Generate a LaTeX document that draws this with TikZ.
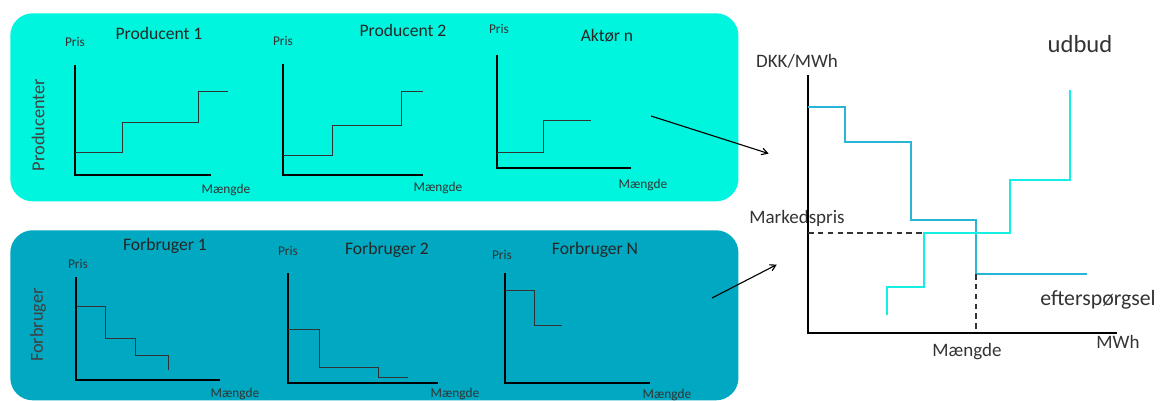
\documentclass[tikz,border=0pt]{standalone}
\usepackage{fontspec}
\setmainfont{Carlito}
\usepackage{tikz}
\usetikzlibrary{arrows,positioning}

\definecolor{prodfill}{RGB}{0,245,222}
\definecolor{consfill}{RGB}{0,168,194}
\definecolor{demandline}{RGB}{40,182,212}
\definecolor{supplyline}{RGB}{20,238,228}

\begin{document}
\begin{tikzpicture}
[
	x=0.025cm, y=-0.025cm,
	panel/.style = {rectangle, rounded corners = 16pt, inner sep=0pt, anchor=north west, minimum width=18.2cm},
	axis/.style = {-, line width=0.9pt},
	curve/.style = {-, line width=0.6pt, black!80},
	market/.style = {-, line width=1.1pt},
	small/.style = {font=\fontsize{9.5}{11}\selectfont, inner sep=0pt, text=black!80},
	heading/.style = {font=\fontsize{12.5}{14}\selectfont, inner sep=0pt, text=black!85},
	sidetext/.style = {font=\fontsize{13}{15}\selectfont, inner sep=0pt, rotate=90, text=black!75},
	mlabel/.style = {font=\fontsize{13.5}{15}\selectfont, inner sep=0pt, text=black!80},
	arrow/.style = {->, >=angle 60, thick, shorten >=1pt},
	guide/.style = {dash pattern=on 4pt off 3pt, thick, black!80}
]
\useasboundingbox (0,0) rectangle (1160,401);

% panels
\node[panel, fill=prodfill, minimum height=4.7cm] (producers) at (10,13) {};
\node[panel, fill=consfill, minimum height=4.25cm] (consumers) at (10,230) {};

\node[sidetext] (prodside) at (38,125) {Producenter};
\node[sidetext] (consside) at (38,325) {Forbruger};

% Producent 1
\node[heading] (prod1) at (159,33) {Producent 1};
\node[small] (prod1p) at (75,42) {Pris};
\node[small] (prod1q) at (226,190) {Mængde};
\draw[axis] (75,65) |- (211,175);
\draw[curve] (75,152) -| (122,122) -| (198,91) -- (228,91);

% Producent 2
\node[heading] (prod2) at (403,30) {Producent 2};
\node[small] (prod2p) at (283,41) {Pris};
\node[small] (prod2q) at (438,188) {Mængde};
\draw[axis] (283,64) |- (423,175);
\draw[curve] (283,155) -| (332,125) -| (401,91) -- (423,91);

% Aktoer n
\node[heading] (prodn) at (607,36) {Aktør n};
\node[small] (prodnp) at (499,29) {Pris};
\node[small] (prodnq) at (643,185) {Mængde};
\draw[axis] (497,55) |- (631,168);
\draw[curve] (497,152) -| (543,120) -- (591,120);

% Forbruger 1
\node[heading] (cons1) at (165,246) {Forbruger 1};
\node[small] (cons1p) at (78,264) {Pris};
\node[small] (cons1q) at (235,394) {Mængde};
\draw[axis] (76,277) |- (220,380);
\draw[curve] (76,306) -| (105,338) -| (135,355) -| (168,370);

% Forbruger 2
\node[heading] (cons2) at (387,250) {Forbruger 2};
\node[small] (cons2p) at (288,251) {Pris};
\node[small] (cons2q) at (455,394) {Mængde};
\draw[axis] (288,273) |- (438,383);
\draw[curve] (288,329) -| (319,367) -- (378,367) |- (408,377);

% Forbruger N
\node[heading] (consn) at (595,250) {Forbruger N};
\node[small] (consnp) at (502,255) {Pris};
\node[small] (consnq) at (667,395) {Mængde};
\draw[axis] (505,273) |- (650,383);
\draw[curve] (505,290) -| (534,325) -- (562,325);

% markedet
\node[mlabel] (unit) at (797,61) {DKK/MWh};
\node[mlabel, font=\fontsize{17.5}{20}\selectfont] (supplytext) at (1080,44) {udbud};
\node[mlabel] (price) at (797,218) {Markedspris};
\node[mlabel] (qty) at (967,352) {Mængde};
\node[mlabel] (mwh) at (1118,342) {MWh};
\node[mlabel, font=\fontsize{15.5}{18}\selectfont] (demandtext) at (1098,300) {efterspørgsel};

\draw[axis] (808,75) |- (1117,333);
\draw[market, demandline] (808,107) -| (845,142) -| (911,220) -| (976,274) -- (1087,274);
\draw[market, supplyline] (887,315) |- (924,287) |- (1010,233) |- (1070,180) -- (1070,90);
\draw[guide] (808,233) -- (922,233);
\draw[guide] (976,274) -- (976,333);

\coordinate (prodout) at (651,116);
\coordinate (mktin1) at (770,154);
\coordinate (consout) at (712,298);
\coordinate (mktin2) at (778,264);
\draw[arrow] (prodout) -- (mktin1);
\draw[arrow] (consout) -- (mktin2);

\end{tikzpicture}
\end{document}
